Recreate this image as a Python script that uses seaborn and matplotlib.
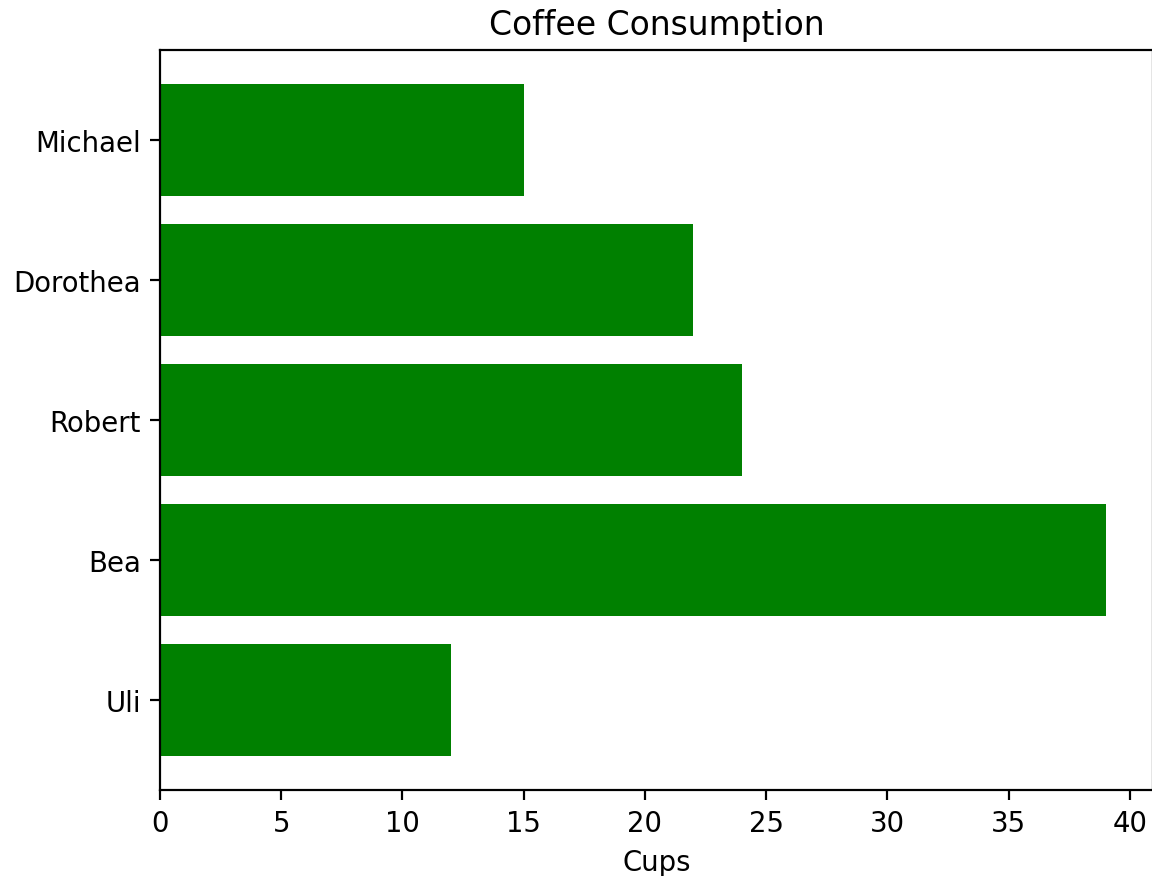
import matplotlib
matplotlib.use("Agg")
import matplotlib.pyplot as plt
import seaborn as sns
import pandas as pd

names = ["Michael", "Dorothea", "Robert", "Bea", "Uli"]
cups = [15, 22, 24, 39, 12]

df = pd.DataFrame({"name": names, "cups": cups})

k = 1.1
plt.rcParams['font.family'] = ['DejaVu Sans']
plt.rcParams.update({
    "xtick.major.size": 3.5 * k, "ytick.major.size": 3.5 * k,
    "xtick.major.pad": 3.5 * k, "ytick.major.pad": 3.5 * k,
    "xtick.major.width": 0.8 * k, "ytick.major.width": 0.8 * k,
    "axes.linewidth": 0.8 * k,
})
fig = plt.figure(figsize=(6.4, 877 / 180), dpi=180)
ax = fig.add_axes([160 / 1152, (877 - 790.6) / 877, (1153 - 160) / 1152, (790.6 - 51.4) / 877])
sns.barplot(data=df, x="cups", y="name", order=names, orient="h", color="green",
            saturation=1, width=0.8, ax=ax, errorbar=None)
ax.set_xlim(0, 40.95)
ax.set_ylim(4.64, -0.64)
ax.set_xticks(range(0, 41, 5))
ax.tick_params(labelsize=10 * k)
ax.set_xlabel("Cups", fontsize=10 * k, labelpad=4 * k)
ax.set_ylabel("")
ax.set_title("Coffee Consumption", fontsize=12 * k, pad=6 * k)
for s in ax.spines.values():
    s.set_visible(True)
fig.savefig("out.png", dpi=180)
